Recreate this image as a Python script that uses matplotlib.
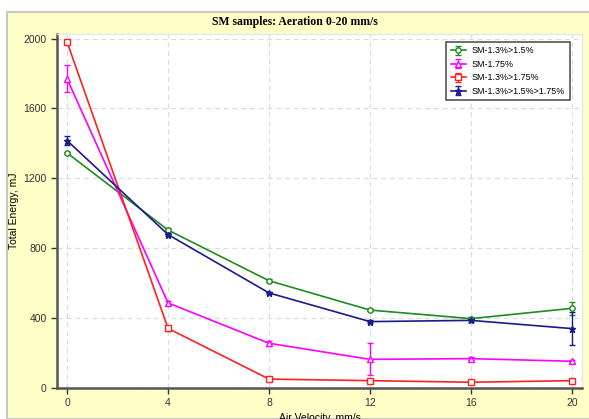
"""Total energy vs air velocity for SM samples (aeration 0-20 mm/s)."""

import matplotlib
matplotlib.use("Agg")
import matplotlib.pyplot as plt
from matplotlib.patches import Rectangle

velocity = [0, 4, 8, 12, 16, 20]

sm_13_15 = [1345, 904, 614, 446, 397, 456]
sm_13_15_err = [8, 12, 8, 8, 8, 38]

sm_175 = [1769, 487, 256, 164, 168, 153]
sm_175_err = [77, 12, 14, 91, 8, 8]

sm_13_175 = [1980, 341, 51, 42, 33, 42]
sm_13_175_err = [8, 15, 6, 6, 6, 6]

sm_13_15_175 = [1416, 878, 544, 380, 387, 340]
sm_13_15_175_err = [27, 10, 8, 8, 8, 93]

labels = ["SM-1.3%>1.5%", "SM-1.75%", "SM-1.3%>1.75%", "SM-1.3%>1.5%>1.75%"]
colors = ["#1e8c1e", "#ff00ff", "#ff2020", "#1a1a8c"]
markers = ["o", "^", "s", "*"]

plt.rcParams["font.family"] = ["Liberation Sans", "DejaVu Sans"]

fig = plt.figure(figsize=(5.89, 4.19), dpi=100)
fig.patch.set_facecolor("white")
panel = Rectangle((7 / 589, 0), 1, 1 - 12 / 419, transform=fig.transFigure,
                  facecolor="#ffffc8", edgecolor="#c8c8c8", linewidth=1.5, zorder=-10)
fig.patches.append(panel)

ax = fig.add_axes([57 / 589, 1 - 388 / 419, 525 / 589, 354 / 419])
ax.set_facecolor("white")

series = [sm_13_15, sm_175, sm_13_175, sm_13_15_175]
errors = [sm_13_15_err, sm_175_err, sm_13_175_err, sm_13_15_175_err]
for vals, errs, lab, col, mk in zip(series, errors, labels, colors, markers):
    ax.errorbar(velocity, vals, yerr=errs, color=col, marker=mk,
                markersize=3.8 if mk != "*" else 4.5,
                markerfacecolor="white" if mk != "*" else col, markeredgewidth=1.0,
                linewidth=1.2, capsize=2.5, elinewidth=1.0, label=lab, zorder=3)

ax.set_xlim(-0.4, 20.4)
ax.set_ylim(0, 2026)
ax.set_xticks(velocity)
ax.set_yticks([0, 400, 800, 1200, 1600, 2000])
ax.tick_params(labelsize=7.5, colors="#333333", length=4, width=1, direction="out")
ax.grid(True, color="#dddddd", linestyle=(0, (4, 3)), linewidth=0.9)
ax.set_axisbelow(True)
for side in ["left", "bottom"]:
    ax.spines[side].set_color("#555555")
    ax.spines[side].set_linewidth(1.8)
for side in ["top", "right"]:
    ax.spines[side].set_color("#e6e6e6")
    ax.spines[side].set_linewidth(1)

ax.set_xlabel("Air Velocity, mm/s", fontsize=7.5, labelpad=3)
ax.set_ylabel("Total Energy, mJ", fontsize=7.5, labelpad=3)

fig.text(0.5, 1 - 22 / 419, "SM samples: Aeration 0-20 mm/s", ha="center", va="center",
         fontsize=8.5, fontweight="bold", family="Liberation Serif")

leg = ax.legend(loc="upper right", fontsize=6.4, fancybox=False, framealpha=1,
                edgecolor="#555555", borderpad=0.5, handlelength=1.7,
                handletextpad=0.7, labelspacing=0.5, bbox_to_anchor=(0.985, 0.99))
leg.get_frame().set_linewidth(1.2)

fig.savefig("out.png", dpi=100)
